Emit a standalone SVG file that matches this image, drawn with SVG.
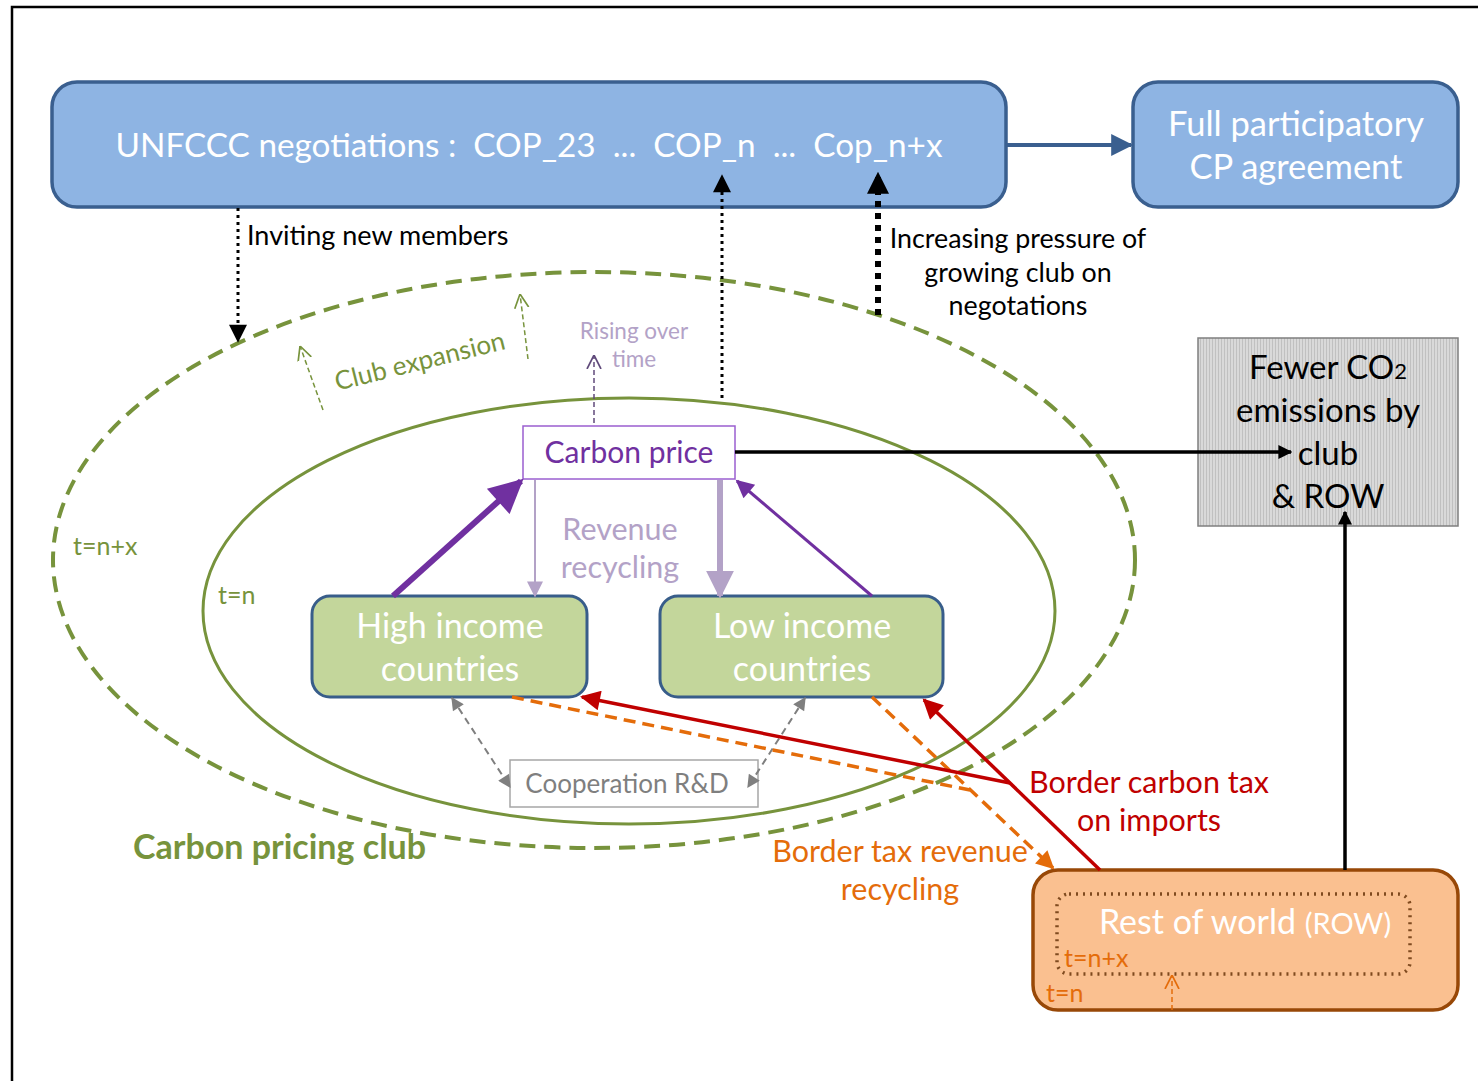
<svg xmlns="http://www.w3.org/2000/svg" width="1478" height="1081" viewBox="0 0 1478 1081">
<style>
text{font-family:Lato,"Open Sans","Liberation Sans",sans-serif}
.wt{fill:#fff}
.bx{stroke:#3A5F8F;stroke-width:3.5}
.grn{fill:#77933C}
.blk{fill:#000}
</style>
<defs>
<pattern id="stripe" width="3" height="10" patternUnits="userSpaceOnUse">
<rect width="3" height="10" fill="#D9D9D9"/>
<rect width="1" height="10" fill="#C0C0C0"/>
</pattern>
<marker id="mBlue" viewBox="0 0 10 10" refX="9" refY="5" markerUnits="userSpaceOnUse" markerWidth="26" markerHeight="22" orient="auto"><path d="M0,0L10,5L0,10z" fill="#3A5F8F"/></marker>
<marker id="mBlk" viewBox="0 0 10 10" refX="9" refY="5" markerUnits="userSpaceOnUse" markerWidth="20" markerHeight="18" orient="auto"><path d="M0,0L10,5L0,10z" fill="#000"/></marker>
<marker id="mBlkL" viewBox="0 0 10 10" refX="9" refY="5" markerUnits="userSpaceOnUse" markerWidth="22" markerHeight="36" orient="auto"><path d="M0,0L10,5L0,10z" fill="#000"/></marker>
<marker id="mBlkS" viewBox="0 0 10 10" refX="9" refY="5" markerUnits="userSpaceOnUse" markerWidth="14" markerHeight="14" orient="auto"><path d="M0,0L10,5L0,10z" fill="#000"/></marker>
<marker id="mPurL" viewBox="0 0 10 10" refX="9" refY="5" markerUnits="userSpaceOnUse" markerWidth="36" markerHeight="34" orient="auto"><path d="M0,0L10,5L0,10z" fill="#7030A0"/></marker>
<marker id="mPur" viewBox="0 0 10 10" refX="9" refY="5" markerUnits="userSpaceOnUse" markerWidth="20" markerHeight="18" orient="auto"><path d="M0,0L10,5L0,10z" fill="#7030A0"/></marker>
<marker id="mLpL" viewBox="0 0 10 10" refX="9" refY="5" markerUnits="userSpaceOnUse" markerWidth="28" markerHeight="30" orient="auto"><path d="M0,0L10,5L0,10z" fill="#B3A2C7"/></marker>
<marker id="mLp" viewBox="0 0 10 10" refX="9" refY="5" markerUnits="userSpaceOnUse" markerWidth="18" markerHeight="16" orient="auto"><path d="M0,0L10,5L0,10z" fill="#B3A2C7"/></marker>
<marker id="mRed" viewBox="0 0 10 10" refX="9" refY="5" markerUnits="userSpaceOnUse" markerWidth="22" markerHeight="20" orient="auto"><path d="M0,0L10,5L0,10z" fill="#C00000"/></marker>
<marker id="mOr" viewBox="0 0 10 10" refX="9" refY="5" markerUnits="userSpaceOnUse" markerWidth="20" markerHeight="18" orient="auto"><path d="M0,0L10,5L0,10z" fill="#E46C0A"/></marker>
<marker id="mGray" viewBox="0 0 10 10" refX="9" refY="5" markerUnits="userSpaceOnUse" markerWidth="14" markerHeight="13" orient="auto-start-reverse"><path d="M0,0L10,5L0,10z" fill="#7F7F7F"/></marker>
<marker id="mOpenG" viewBox="0 0 10 10" refX="10" refY="5" markerUnits="userSpaceOnUse" markerWidth="14" markerHeight="20" orient="auto"><path d="M0,0L10,5L0,10" fill="none" stroke="#77933C" stroke-width="1.2"/></marker>
<marker id="mOpenP" viewBox="0 0 10 10" refX="10" refY="5" markerUnits="userSpaceOnUse" markerWidth="14" markerHeight="22" orient="auto"><path d="M0,0L10,5L0,10" fill="none" stroke="#604A7B" stroke-width="1.2"/></marker>
<marker id="mOpenO" viewBox="0 0 10 10" refX="10" refY="5" markerUnits="userSpaceOnUse" markerWidth="14" markerHeight="20" orient="auto"><path d="M0,0L10,5L0,10" fill="none" stroke="#E46C0A" stroke-width="1.2"/></marker>
</defs>

<rect width="1478" height="1081" fill="#fff"/>
<path d="M12,1081V7H1478" fill="none" stroke="#000" stroke-width="2.5"/>

<!-- club ellipses -->
<g id="club">
<ellipse cx="594" cy="560" rx="541" ry="288" fill="none" stroke="#77933C" stroke-width="4" stroke-dasharray="16,9"/>
<ellipse cx="629" cy="611" rx="426" ry="213" fill="none" stroke="#77933C" stroke-width="3"/>
<text x="73" y="555" font-size="25" class="grn">t=n+x</text>
<text x="218" y="604" font-size="25" class="grn">t=n</text>
<text x="133" y="859" font-size="34" font-weight="bold" class="grn">Carbon pricing club</text>
<text x="420" y="370" font-size="26" class="grn" text-anchor="middle" transform="rotate(-14 420 362)">Club expansion</text>
</g>

<g id="unfccc">
<rect x="52" y="82" width="954" height="125" rx="25" fill="#8EB4E3" class="bx"/>
<text x="529" y="157" font-size="33.3" class="wt" text-anchor="middle" xml:space="preserve">UNFCCC negotiations :  COP_23  ...  COP_n  ...  Cop_n+x</text>
</g>

<g id="full-cp">
<rect x="1133" y="82" width="325" height="125" rx="25" fill="#8EB4E3" class="bx"/>
<text font-size="34.5" class="wt" text-anchor="middle"><tspan x="1296" y="136">Full participatory</tspan><tspan x="1296" y="179">CP agreement</tspan></text>
</g>

<g id="fewer-co2">
<rect x="1198" y="338" width="260" height="188" fill="url(#stripe)" stroke="#7F7F7F" stroke-width="1.5"/>
<text font-size="33" class="blk" text-anchor="middle"><tspan x="1328" y="379">Fewer CO<tspan font-size="22">2</tspan></tspan><tspan x="1328" y="422">emissions by</tspan><tspan x="1328" y="465">club</tspan><tspan x="1328" y="508">&amp; ROW</tspan></text>
</g>

<g id="carbon-price">
<rect x="523" y="426" width="212" height="53" fill="#fff" stroke="#9A5FD0" stroke-width="1.5"/>
<text x="629" y="463" font-size="30" fill="#7030A0" text-anchor="middle">Carbon price</text>
</g>

<g id="high-income">
<rect x="312" y="596" width="275" height="101" rx="18" fill="#C3D69B" stroke="#385D8A" stroke-width="3"/>
<text font-size="34" class="wt" text-anchor="middle"><tspan x="450" y="638">High income</tspan><tspan x="450" y="681">countries</tspan></text>
</g>

<g id="low-income">
<rect x="660" y="596" width="283" height="101" rx="18" fill="#C3D69B" stroke="#385D8A" stroke-width="3"/>
<text font-size="34" class="wt" text-anchor="middle"><tspan x="802" y="638">Low income</tspan><tspan x="802" y="681">countries</tspan></text>
</g>

<g id="cooperation">
<rect x="510" y="760" width="248" height="47" fill="#fff" stroke="#A6A6A6" stroke-width="1.5"/>
<text x="627" y="793" font-size="26" fill="#7F7F7F" text-anchor="middle">Cooperation R&amp;D</text>
</g>

<g id="row">
<rect x="1033" y="870" width="425" height="140" rx="25" fill="#FAC090" stroke="#984807" stroke-width="3.5"/>
<rect x="1057" y="894" width="353" height="80" rx="12" fill="none" stroke="#7F4A1F" stroke-width="3.5" stroke-dasharray="2,5"/>
<text x="1245" y="934" font-size="34" class="wt" text-anchor="middle">Rest of world <tspan font-size="29">(ROW)</tspan></text>
<text x="1064" y="967" font-size="25" fill="#E46C0A">t=n+x</text>
<text x="1046" y="1002" font-size="25" fill="#E46C0A">t=n</text>
</g>

<!-- connectors -->
<g id="connectors" fill="none">
<line x1="1006" y1="145" x2="1131" y2="145" stroke="#3A5F8F" stroke-width="4" marker-end="url(#mBlue)"/>
<line x1="238" y1="208" x2="238" y2="341" stroke="#000" stroke-width="3" stroke-dasharray="3,4" marker-end="url(#mBlk)"/>
<line x1="722" y1="398" x2="722" y2="176" stroke="#000" stroke-width="3" stroke-dasharray="3,4" marker-end="url(#mBlk)"/>
<line x1="878" y1="315" x2="878" y2="174" stroke="#000" stroke-width="6" stroke-dasharray="6,6" marker-end="url(#mBlkL)"/>
<line x1="323" y1="410" x2="300" y2="346" stroke="#77933C" stroke-width="1.5" stroke-dasharray="5,3" marker-end="url(#mOpenG)"/>
<line x1="528" y1="359" x2="520" y2="294" stroke="#77933C" stroke-width="1.5" stroke-dasharray="5,3" marker-end="url(#mOpenG)"/>
<line x1="594" y1="423" x2="594" y2="355" stroke="#604A7B" stroke-width="1.5" stroke-dasharray="5,3" marker-end="url(#mOpenP)"/>
<line x1="735" y1="452" x2="1291" y2="452" stroke="#000" stroke-width="3.5" marker-end="url(#mBlkS)"/>
<line x1="1345" y1="870" x2="1345" y2="512" stroke="#000" stroke-width="3.5" marker-end="url(#mBlkS)"/>
<line x1="393" y1="596" x2="521" y2="481" stroke="#7030A0" stroke-width="6" marker-end="url(#mPurL)"/>
<line x1="872" y1="596" x2="737" y2="481" stroke="#7030A0" stroke-width="3" marker-end="url(#mPur)"/>
<line x1="535" y1="480" x2="535" y2="596" stroke="#B3A2C7" stroke-width="2" marker-end="url(#mLp)"/>
<line x1="720" y1="480" x2="720" y2="596" stroke="#B3A2C7" stroke-width="6" marker-end="url(#mLpL)"/>
<line x1="452" y1="698" x2="510" y2="787" stroke="#7F7F7F" stroke-width="2" stroke-dasharray="7,5" marker-start="url(#mGray)" marker-end="url(#mGray)"/>
<line x1="805" y1="698" x2="748" y2="787" stroke="#7F7F7F" stroke-width="2" stroke-dasharray="7,5" marker-start="url(#mGray)" marker-end="url(#mGray)"/>
<line x1="512" y1="697" x2="970" y2="790" stroke="#E46C0A" stroke-width="3.5" stroke-dasharray="12,7"/>
<line x1="872" y1="697" x2="1053" y2="868" stroke="#E46C0A" stroke-width="3.5" stroke-dasharray="12,7" marker-end="url(#mOr)"/>
<line x1="1100" y1="870" x2="924" y2="700" stroke="#C00000" stroke-width="3.5" marker-end="url(#mRed)"/>
<line x1="1010" y1="783" x2="582" y2="697" stroke="#C00000" stroke-width="3.5" marker-end="url(#mRed)"/>
<line x1="1172" y1="1010" x2="1172" y2="975" stroke="#E46C0A" stroke-width="1.5" stroke-dasharray="5,3" marker-end="url(#mOpenO)"/>
</g>

<!-- labels -->
<g id="labels">
<text x="247" y="245" font-size="27" class="blk">Inviting new members</text>
<text font-size="26.8" class="blk" text-anchor="middle"><tspan x="1018" y="248">Increasing pressure of</tspan><tspan x="1018" y="282">growing club on</tspan><tspan x="1018" y="315">negotations</tspan></text>
<text font-size="22.5" fill="#B3A2C7" text-anchor="middle"><tspan x="634" y="339">Rising over</tspan><tspan x="634" y="367">time</tspan></text>
<text font-size="30.5" fill="#B3A2C7" text-anchor="middle"><tspan x="620" y="540">Revenue</tspan><tspan x="620" y="578">recycling</tspan></text>
<text font-size="30.5" fill="#C00000" text-anchor="middle"><tspan x="1149" y="793">Border carbon tax</tspan><tspan x="1149" y="831">on imports</tspan></text>
<text font-size="30.5" fill="#E46C0A" text-anchor="middle"><tspan x="900" y="862">Border tax revenue</tspan><tspan x="900" y="900">recycling</tspan></text>
</g>
</svg>
